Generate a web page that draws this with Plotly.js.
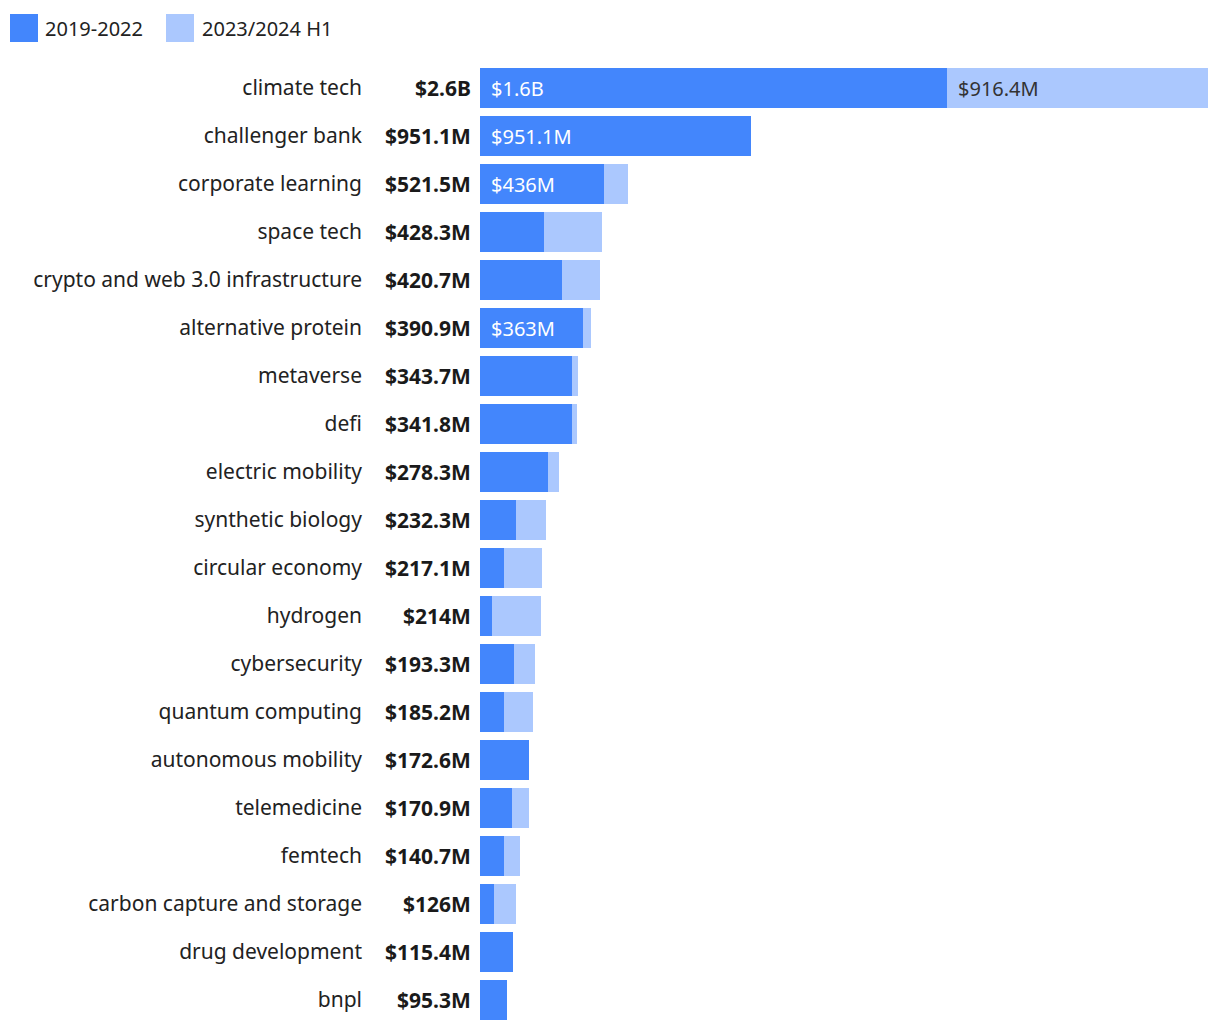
<!DOCTYPE html>
<html>
<head>
<meta charset="utf-8">
<script src="https://cdn.plot.ly/plotly-3.0.1.min.js"></script>
<style>
  body { margin: 0; background: #fff; }
  #chart { width: 1220px; height: 1032px; }
</style>
</head>
<body>
<div id="chart"></div>
<script>
// категории и значения (в млн $)
const categories = [
  'climate tech', 'challenger bank', 'corporate learning', 'space tech',
  'crypto and web 3.0 infrastructure', 'alternative protein', 'metaverse', 'defi',
  'electric mobility', 'synthetic biology', 'circular economy', 'hydrogen',
  'cybersecurity', 'quantum computing', 'autonomous mobility', 'telemedicine',
  'femtech', 'carbon capture and storage', 'drug development', 'bnpl'
];
const early = [1642, 951.1, 436, 225, 288, 363, 323, 323, 239, 126, 84, 42, 119, 84, 172.6, 112, 84, 49, 115.4, 95.3];
const recent = [916.4, 0, 85.5, 203.3, 132.7, 27.9, 20.7, 18.8, 39.3, 106.3, 133.1, 172, 74.3, 101.2, 0, 58.9, 56.7, 77, 0, 0];
const totalLabels = [
  '$2.6B', '$951.1M', '$521.5M', '$428.3M', '$420.7M', '$390.9M', '$343.7M', '$341.8M',
  '$278.3M', '$232.3M', '$217.1M', '$214M', '$193.3M', '$185.2M', '$172.6M', '$170.9M',
  '$140.7M', '$126M', '$115.4M', '$95.3M'
];
const earlyLabels = ['$1.6B', '$951.1M', '$436M', '', '', '$363M', '', '', '', '', '', '', '', '', '', '', '', '', '', ''];
const recentLabels = ['$916.4M', '', '', '', '', '', '', '', '', '', '', '', '', '', '', '', '', '', '', ''];
const seriesNames = ['2019-2022', '2023/2024 H1'];

const DARK = '#4386fc';
const LIGHT = '#abc8fe';
const FONT = '"Noto Sans", Lato, sans-serif';

const traces = [
  { type: 'bar', orientation: 'h', y: categories, x: early, name: seriesNames[0],
    marker: { color: DARK }, hoverinfo: 'none' },
  { type: 'bar', orientation: 'h', y: categories, x: recent, name: seriesNames[1],
    marker: { color: LIGHT }, hoverinfo: 'none' }
];

const annotations = [];
categories.forEach((c, i) => {
  // итоговая сумма слева от столбца
  annotations.push({ x: 0, y: c, xref: 'x', yref: 'y', text: '<b>' + totalLabels[i] + '</b>',
    showarrow: false, xanchor: 'right', xshift: -7, font: { family: FONT, size: 21, color: '#1a1a1a' } });
  if (earlyLabels[i]) {
    annotations.push({ x: 0, y: c, xref: 'x', yref: 'y', text: earlyLabels[i],
      showarrow: false, xanchor: 'left', xshift: 9, font: { family: FONT, size: 20, color: '#ffffff' } });
  }
  if (recentLabels[i]) {
    annotations.push({ x: early[i], y: c, xref: 'x', yref: 'y', text: recentLabels[i],
      showarrow: false, xanchor: 'left', xshift: 9, font: { family: FONT, size: 20, color: '#333333' } });
  }
});

// легенда: большие квадраты рисуем сами
const shapes = [];
const legendX = [10, 166];
const textX = [43, 200];
seriesNames.forEach((n, k) => {
  shapes.push({ type: 'rect', xref: 'paper', yref: 'paper', xsizemode: 'pixel', ysizemode: 'pixel',
    xanchor: 0, yanchor: 1, x0: legendX[k] - 480, x1: legendX[k] - 452, y0: 64 - 14, y1: 64 - 42,
    fillcolor: k === 0 ? DARK : LIGHT, line: { width: 0 } });
  annotations.push({ xref: 'paper', yref: 'paper', x: 0, y: 1, xshift: textX[k] - 480, yshift: 64 - 28,
    xanchor: 'left', yanchor: 'middle', text: n, showarrow: false,
    font: { family: FONT, size: 20, color: '#222' } });
});

const layout = {
  width: 1220, height: 1032,
  margin: { l: 480, r: 12, t: 64, b: 8 },
  barmode: 'stack',
  bargap: 0.167,
  showlegend: false,
  paper_bgcolor: '#fff', plot_bgcolor: '#fff',
  font: { family: FONT, size: 20, color: '#222' },
  xaxis: { range: [0, early[0] + recent[0]], visible: false, fixedrange: true },
  yaxis: { autorange: 'reversed', showgrid: false, zeroline: false, showline: false,
    ticks: '', ticklabelstandoff: 117, tickfont: { family: FONT, size: 21, color: '#222' }, fixedrange: true },
  annotations: annotations,
  shapes: shapes
};

Plotly.newPlot('chart', traces, layout, { displayModeBar: false, staticPlot: true });
</script>
</body>
</html>
